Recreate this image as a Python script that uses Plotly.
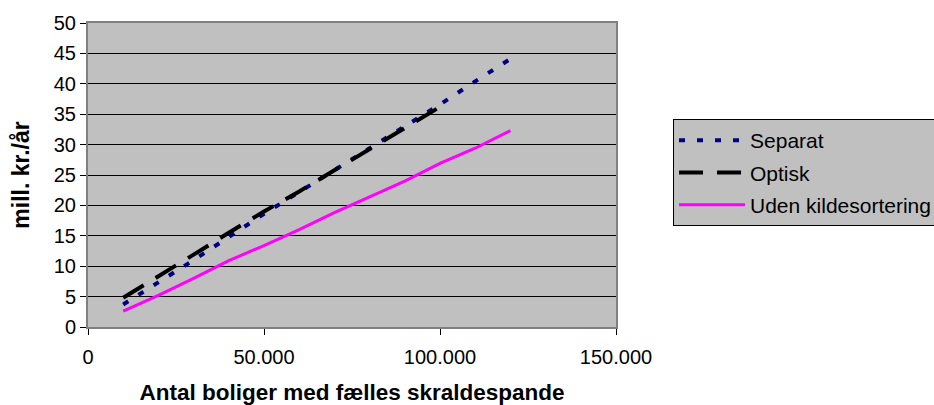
import plotly.graph_objects as go

x_separat = [10000, 20000, 30000, 40000, 50000, 60000, 70000, 80000, 90000, 100000, 110000, 120000]
y_separat = [3.7, 7.3, 11.0, 14.8, 18.6, 22.2, 25.8, 29.4, 32.9, 36.6, 40.4, 44.1]

x_optisk = [10000, 20000, 30000, 40000, 50000, 60000, 70000, 80000, 90000, 100000]
y_optisk = [4.8, 8.3, 11.9, 15.5, 19.0, 22.3, 25.8, 29.2, 32.7, 36.2]

x_uden = [10000, 20000, 30000, 40000, 50000, 60000, 70000, 80000, 90000, 100000, 110000, 120000]
y_uden = [2.6, 5.2, 8.0, 10.9, 13.4, 16.0, 18.8, 21.4, 24.0, 26.9, 29.4, 32.3]

x_ticks = [0, 50000, 100000, 150000]
x_ticklabels = ["0", "50.000", "100.000", "150.000"]
y_ticks = [0, 5, 10, 15, 20, 25, 30, 35, 40, 45, 50]

FONT = "Liberation Sans, Arial, sans-serif"

fig = go.Figure()
fig.add_trace(go.Scatter(x=x_separat, y=y_separat, mode="lines", name="Separat",
                         legendgroup="a",
                         line=dict(color="#000080", width=4, dash="6px,12px")))
fig.add_trace(go.Scatter(x=x_optisk, y=y_optisk, mode="lines", name="Optisk",
                         legendgroup="b",
                         line=dict(color="#000000", width=4, dash="24px,14px")))
fig.add_trace(go.Scatter(x=x_uden, y=y_uden, mode="lines", name="Uden kildesortering",
                         legendgroup="c",
                         line=dict(color="#FF00FF", width=3)))

fig.update_layout(
    width=934, height=405,
    margin=dict(l=88, r=318, t=23, b=78, autoexpand=False),
    paper_bgcolor="white",
    plot_bgcolor="#C0C0C0",
    font=dict(family=FONT, size=20, color="black"),
    showlegend=True,
    legend=dict(
        x=1.108, y=0.684, xanchor="left", yanchor="top",
        bgcolor="#C0C0C0", bordercolor="#000000", borderwidth=1,
        font=dict(family=FONT, size=21, color="black"),
        itemwidth=66, tracegroupgap=2,
    ),
)
fig.update_xaxes(
    range=[0, 150000], tickvals=x_ticks, ticktext=x_ticklabels,
    showgrid=False, zeroline=False,
    showline=True, mirror=True, linecolor="#808080", linewidth=2,
    ticks="outside", ticklen=6, tickcolor="#000000",
    tickfont=dict(family=FONT, size=20), ticklabelstandoff=5,
    title=dict(text="<b>Antal boliger med fælles skraldespande</b>",
               font=dict(family=FONT, size=22.5), standoff=20),
)
fig.update_yaxes(
    range=[0, 50], tickvals=y_ticks,
    showgrid=True, gridcolor="#000000", gridwidth=1, zeroline=False,
    showline=True, mirror=True, linecolor="#808080", linewidth=2,
    ticks="outside", ticklen=6, tickcolor="#000000",
    tickfont=dict(family=FONT, size=20),
    title=dict(text="<b>mill. kr./år</b>",
               font=dict(family=FONT, size=23), standoff=18),
)

fig.write_html("out.html")
